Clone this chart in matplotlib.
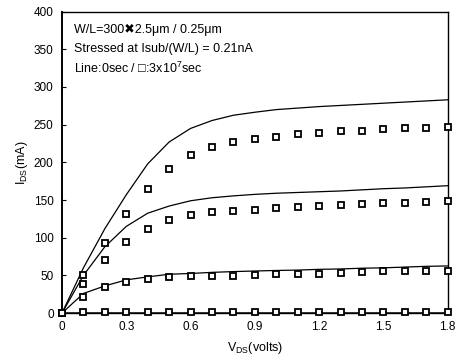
import numpy as np
import matplotlib
matplotlib.use('Agg')
import matplotlib.pyplot as plt

plt.rcParams['font.family'] = ['Liberation Sans', 'DejaVu Sans']
plt.rcParams['mathtext.default'] = 'regular'

# drain voltage (V)
vds = [0.0, 0.1, 0.2, 0.3, 0.4, 0.5, 0.6, 0.7, 0.8, 0.9,
       1.0, 1.1, 1.2, 1.3, 1.4, 1.5, 1.6, 1.7, 1.8]

# lines: fresh device (0 sec), Ids in mA
fresh_1 = [0, 60, 112, 157, 198, 227, 245, 255.5, 262.5, 266.5,
           270, 272, 274, 275.5, 277, 278.5, 280, 281.5, 283]
fresh_2 = [0, 50, 88, 115, 132.5, 142, 149, 153, 155.5, 157.5,
           159, 160, 161, 162, 163.5, 165, 166, 167.5, 169]
fresh_3 = [0, 26, 36, 44, 48, 51.5, 52.5, 54, 55, 55.8,
           56.5, 57, 58, 58.5, 59.5, 60, 61, 62, 62.5]
fresh_4 = [0] * 19

# squares: stressed 3x10^7 sec
stress_1 = [0, 50.5, 93, 132, 164, 191, 210, 221, 227, 231,
            234, 237, 239, 241, 242, 244.5, 245, 246, 247]
stress_2 = [0, 38.5, 70, 94, 112, 123.5, 130.5, 134, 136, 137,
            140, 141, 142, 143.5, 144.5, 145.5, 146.5, 148, 148.5]
stress_3 = [0, 21.5, 34, 41.5, 45, 47.5, 48.5, 49.5, 49.5, 50,
            51.5, 52, 52, 53.5, 54.5, 55.5, 56, 56, 56]
stress_4 = [0, 1, 1, 1, 1, 1, 1, 1, 1, 1,
            1, 1, 1, 1, 1, 1, 1, 1, 1]

fig = plt.figure(figsize=(4.58, 3.64), dpi=100)
ax = fig.add_axes([0.1354, 0.140, 0.842, 0.828])

for y in [fresh_1, fresh_2, fresh_3]:
    ax.plot(vds, y, color='black', linewidth=0.9, zorder=2)
ax.plot(vds, fresh_4, color='black', linewidth=1.8, zorder=2)

for y in [stress_1, stress_2, stress_3, stress_4]:
    ax.plot(vds, y, linestyle='none', marker='s', markersize=4.6,
            markerfacecolor='white', markeredgecolor='black',
            markeredgewidth=1.3, zorder=3, clip_on=False)

ax.set_xlim(0, 1.8)
ax.set_ylim(0, 400)
ax.set_xticks([0, 0.3, 0.6, 0.9, 1.2, 1.5, 1.8])
ax.set_xticklabels(['0', '0.3', '0.6', '0.9', '1.2', '1.5', '1.8'])
ax.set_yticks(range(0, 401, 50))
ax.tick_params(direction='in', length=3, width=0.8, labelsize=8.5, pad=6)

for s in ax.spines.values():
    s.set_linewidth(1.0)
ax.spines['left'].set_linewidth(1.4)

ax.set_xlabel('V$_{DS}$(volts)', fontsize=9, labelpad=5)
ax.set_ylabel('I$_{DS}$(mA)', fontsize=9, labelpad=3)

ax.text(0.031, 0.940, 'W/L=300\u27162.5\u03bcm / 0.25\u03bcm', transform=ax.transAxes,
        fontsize=9, va='center', ha='left')
ax.text(0.031, 0.876, 'Stressed at Isub/(W/L) = 0.21nA', transform=ax.transAxes,
        fontsize=9, va='center', ha='left')
ax.text(0.031, 0.813, 'Line:0sec / \u25a1:3x10$^7$sec', transform=ax.transAxes,
        fontsize=9, va='center', ha='left')

fig.savefig('out.png', dpi=100)
